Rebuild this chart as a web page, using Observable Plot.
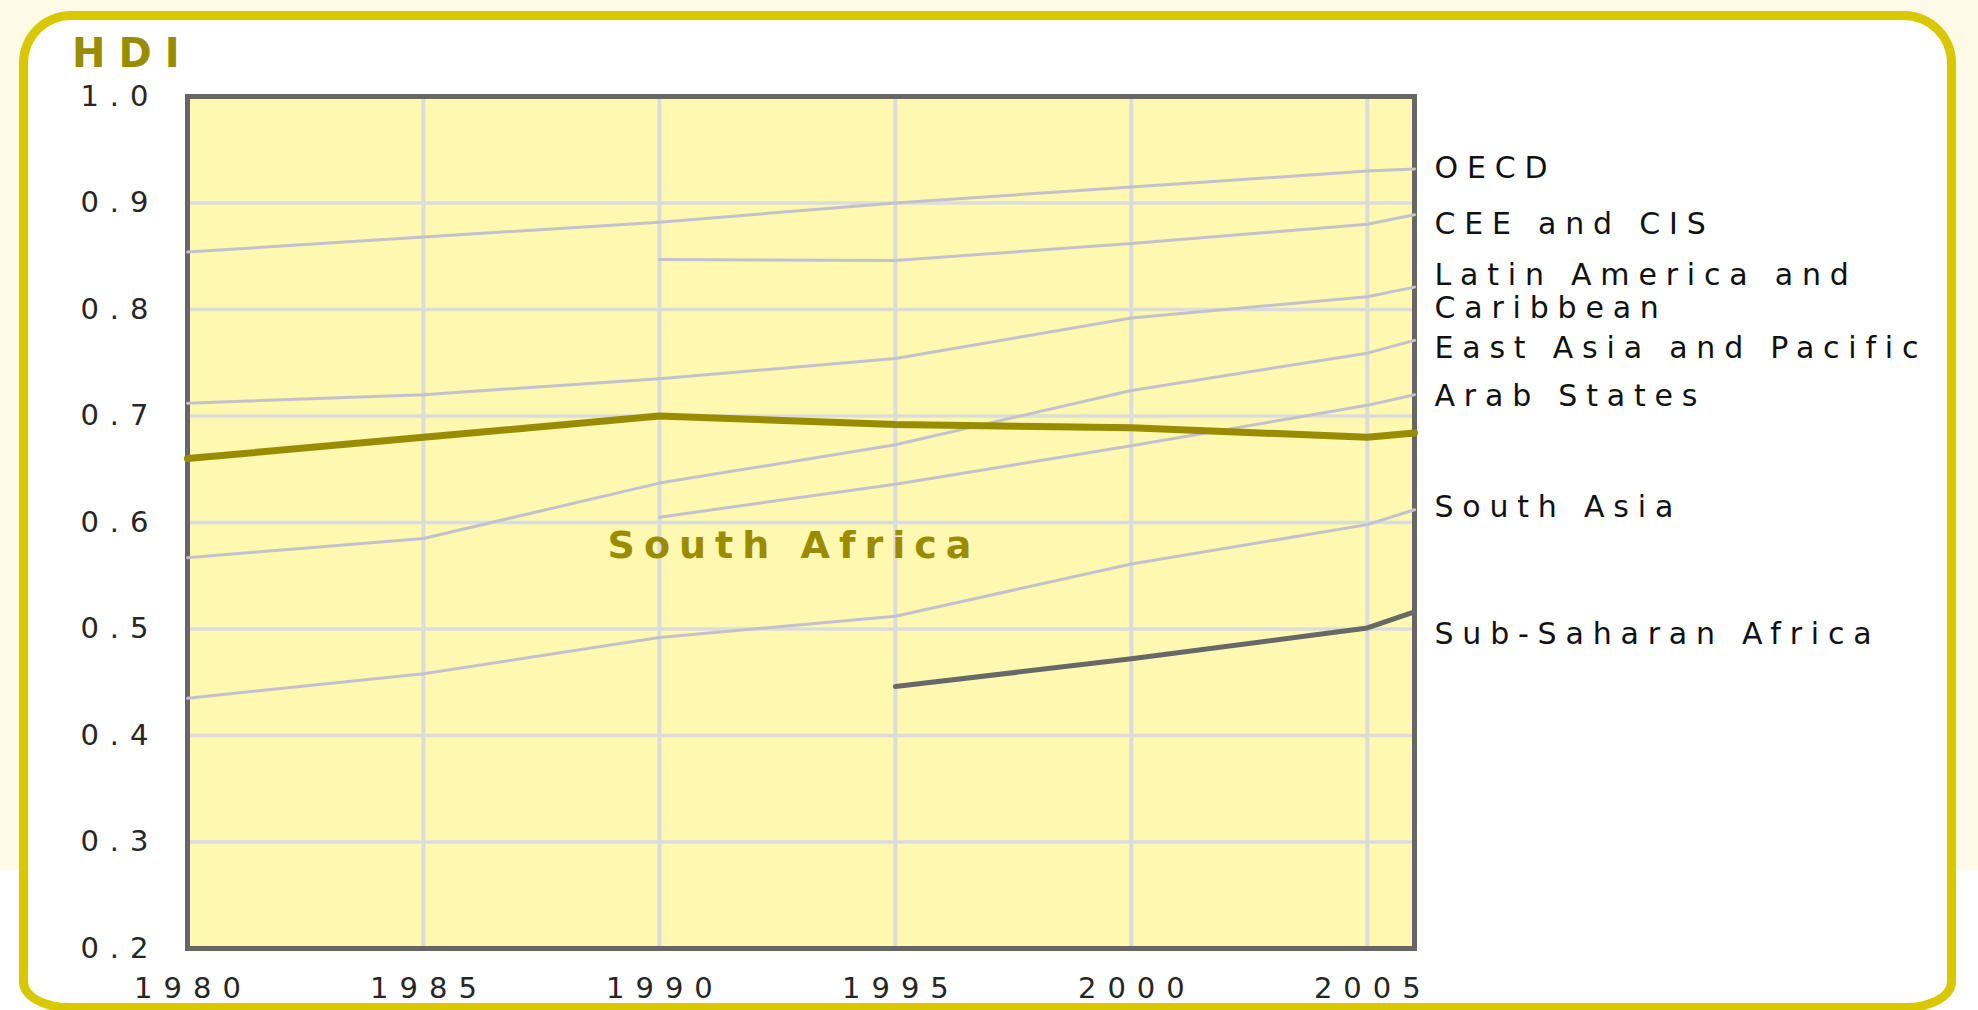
<!DOCTYPE html>
<html>
<head>
<meta charset="utf-8">
<script src="https://cdn.jsdelivr.net/npm/d3@7"></script>
<script src="https://cdn.jsdelivr.net/npm/@observablehq/plot@0.6"></script>
<style>
html, body { margin: 0; padding: 0; }
body {
  width: 1978px; height: 1010px; overflow: hidden; position: relative;
  background: linear-gradient(to bottom, #fffbe7 0, #fffbe7 870px, #ffffff 870px);
  font-family: "DejaVu Sans", sans-serif;
}
#panel {
  position: absolute; left: 19px; top: 11px; width: 1937px; height: 1001px;
  box-sizing: border-box; border: 9px solid #d9c800;
  border-radius: 52px 52px 50px 50px / 52px 52px 30px 30px;
  background: #ffffff;
}
#title {
  position: absolute; left: 72px; top: 33px;
  font: bold 40px/40px "DejaVu Sans", sans-serif; letter-spacing: 13px; color: #9a8c00;
}
#chart { position: absolute; left: 0; top: 0; }
</style>
</head>
<body>
<div id="panel"></div>
<div id="title">HDI</div>
<div id="chart"></div>
<script>
// ---- data ----
const years = [1980, 1985, 1990, 1995, 2000, 2005, 2006];
const seriesNames = ["OECD", "CEE and CIS", "Latin America and Caribbean", "East Asia and Pacific",
                     "Arab States", "South Asia", "Sub-Saharan Africa", "South Africa"];
const oecd         = [0.854, 0.868, 0.882, 0.900, 0.915, 0.930, 0.932];
const ceeCis       = [null,  null,  0.847, 0.846, 0.862, 0.880, 0.889];
const latinAmerica = [0.712, 0.720, 0.735, 0.754, 0.792, 0.812, 0.821];
const eastAsia     = [0.567, 0.585, 0.637, 0.673, 0.724, 0.759, 0.771];
const arabStates   = [null,  null,  0.605, 0.636, 0.672, 0.710, 0.720];
const southAsia    = [0.435, 0.458, 0.492, 0.512, 0.561, 0.598, 0.612];
const subSaharan   = [null,  null,  null,  0.446, 0.472, 0.501, 0.516];
const southAfrica  = [0.660, 0.680, 0.700, 0.692, 0.689, 0.680, 0.684];
const seriesValues = [oecd, ceeCis, latinAmerica, eastAsia, arabStates, southAsia, subSaharan, southAfrica];

const labelTexts  = ["OECD", "CEE and CIS", "Latin America and\nCaribbean", "East Asia and Pacific",
                     "Arab States", "South Asia", "Sub-Saharan Africa"];
const labelLevels = [0.933, 0.881, 0.817, 0.764, 0.719, 0.615, 0.496];
const highlightText  = "South Africa";
const highlightYear  = 1988.9;
const highlightLevel = 0.578;

const xTicks = [1980, 1985, 1990, 1995, 2000, 2005];
const yTicks = [0.2, 0.3, 0.4, 0.5, 0.6, 0.7, 0.8, 0.9, 1.0];
const yGrid  = [0.3, 0.4, 0.5, 0.6, 0.7, 0.8, 0.9];

// ---- tidy table ----
const rows = seriesNames.flatMap((name, i) =>
  years.map((year, j) => ({name, year, hdi: seriesValues[i][j]})));
const grayRows = rows.filter(d => d.name !== "Sub-Saharan Africa" && d.name !== "South Africa");
const ssaRows = rows.filter(d => d.name === "Sub-Saharan Africa");
const saRows = rows.filter(d => d.name === "South Africa");
const lastYear = years[years.length - 1];
const labels = labelTexts.map((t, i) => ({text: t, year: lastYear, level: labelLevels[i]}));
const highlight = [{text: highlightText, year: highlightYear, level: highlightLevel}];

const tickSpacing = 11;

const chart = Plot.plot({
  width: 1978,
  height: 1010,
  marginLeft: 187,
  marginRight: 564,
  marginTop: 96,
  marginBottom: 62,
  style: {background: "transparent", color: "#262626", fontFamily: "DejaVu Sans, sans-serif", overflow: "visible"},
  x: {domain: [1980, 2006]},
  y: {domain: [0.2, 1.0]},
  marks: [
    Plot.frame({fill: "#fef8b0"}),
    Plot.gridX(xTicks, {stroke: "#dcdcdc", strokeOpacity: 1, strokeWidth: 4}),
    Plot.gridY(yGrid, {stroke: "#dcdcdc", strokeOpacity: 1, strokeWidth: 3.5}),
    Plot.frame({stroke: "#666666", strokeWidth: 5}),
    Plot.line(grayRows, {x: "year", y: "hdi", z: "name", stroke: "#c3c2cc", strokeWidth: 3}),
    Plot.line(ssaRows, {x: "year", y: "hdi", stroke: "#686868", strokeWidth: 5}),
    Plot.line(saRows, {x: "year", y: "hdi", stroke: "#9a8c00", strokeWidth: 7}),
    Plot.axisX(xTicks, {tickFormat: d => String(d), tickSize: 0, tickPadding: 29, fontSize: 29, dx: tickSpacing / 2, label: null}),
    Plot.axisY(yTicks, {tickFormat: d => d.toFixed(1), tickSize: 0, tickPadding: 39 - tickSpacing, fontSize: 29, label: null}),
    Plot.text(labels, {x: "year", y: "level", text: "text", dx: 20, textAnchor: "start",
                       fontSize: 30, fill: "#111111", lineHeight: 1.1}),
    Plot.text(highlight, {x: "year", y: "level", text: "text", textAnchor: "start",
                          fontSize: 38, fontWeight: "bold", fill: "#9a8c00"})
  ]
});

document.getElementById("chart").appendChild(chart);

const svg = d3.select(chart);
svg.selectAll('g[aria-label="x-axis tick label"], g[aria-label="y-axis tick label"]')
   .style("font-size", "29px")
   .style("letter-spacing", tickSpacing + "px");
const textGroups = svg.selectAll('g[aria-label="text"]').nodes();
if (textGroups[0]) d3.select(textGroups[0]).style("letter-spacing", "8.8px");
if (textGroups[1]) d3.select(textGroups[1]).style("letter-spacing", "9px");
</script>
</body>
</html>
